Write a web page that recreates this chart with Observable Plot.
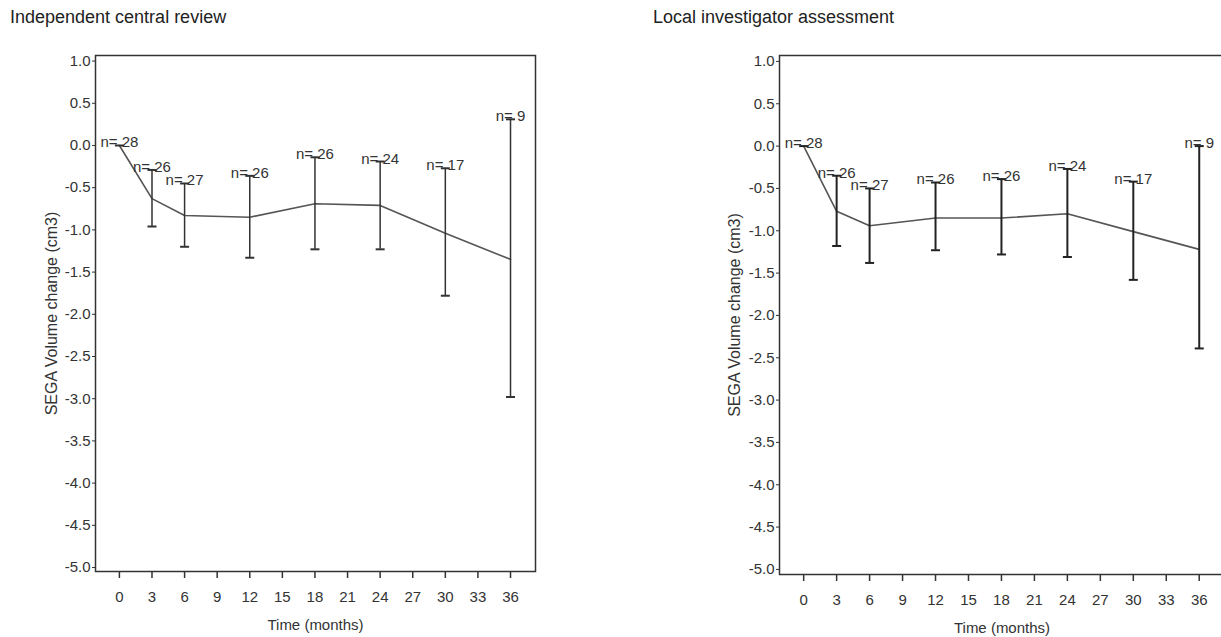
<!DOCTYPE html>
<html>
<head>
<meta charset="utf-8">
<script src="https://cdn.jsdelivr.net/npm/d3@7"></script>
<script src="https://cdn.jsdelivr.net/npm/@observablehq/plot@0.6"></script>
<style>
  html, body { margin: 0; padding: 0; background: #fff; overflow: hidden; }
  #wrap { position: relative; width: 1221px; height: 637px; overflow: hidden; font-family: 'Liberation Sans', Arial, sans-serif; }
  .title { position: absolute; top: 8px; font-size: 18px; line-height: 18px; color: #222; white-space: nowrap; }
  .panel { position: absolute; top: 30px; }
  .panel svg { max-width: none !important; display: block; }
</style>
</head>
<body>
<div id="wrap">
  <div class="title" style="left:10px">Independent central review</div>
  <div class="title" style="left:653px">Local investigator assessment</div>
  <div class="panel" id="left" style="left:0px; width:620px"></div>
  <div class="panel" id="right" style="left:640px; width:600px"></div>
</div>
<script>
// ---- data ----
const months = [0, 3, 6, 12, 18, 24, 30, 36];
const counts = [28, 26, 27, 26, 26, 24, 17, 9];

const centralMean  = [0, -0.63, -0.83, -0.85, -0.69, -0.71, -1.04, -1.35];
const centralLower = [0, -0.96, -1.20, -1.33, -1.23, -1.23, -1.78, -2.98];
const centralUpper = [0, -0.29, -0.45, -0.36, -0.14, -0.19, -0.27, 0.31];

const localMean  = [0, -0.77, -0.94, -0.85, -0.85, -0.80, -1.01, -1.22];
const localLower = [0, -1.18, -1.38, -1.23, -1.28, -1.31, -1.58, -2.39];
const localUpper = [0, -0.35, -0.50, -0.43, -0.39, -0.27, -0.42, 0.00];

const xTicks = [0, 3, 6, 9, 12, 15, 18, 21, 24, 27, 30, 33, 36];
const yTicks = [1.0, 0.5, 0.0, -0.5, -1.0, -1.5, -2.0, -2.5, -3.0, -3.5, -4.0, -4.5, -5.0];

const xLabel = "Time (months)";
const yLabel = "SEGA Volume change (cm3)";

// ---- helpers ----
const capSymbol = {
  draw(ctx, size) {
    const w = Math.sqrt(size / Math.PI);
    ctx.moveTo(-w, 0);
    ctx.lineTo(w, 0);
  }
};

function rowsOf(mean, lower, upper) {
  return months.map((t, i) => ({t, n: counts[i], mean: mean[i], lo: lower[i], hi: upper[i]}));
}

function panel({rows, width, marginLeft, marginRight, marginBottom, yDomain, barWidth, barColor, xLabelOffset, yLabelOffset}) {
  return Plot.plot({
    width,
    height: 607,
    marginTop: 25,
    marginBottom,
    marginLeft,
    marginRight,
    x: {domain: [-2.2, 38.3], axis: null},
    y: {domain: yDomain, axis: null},
    style: {fontFamily: "'Liberation Sans', Arial, sans-serif", fontSize: "15px", color: "#333", background: "transparent", overflow: "visible"},
    marks: [
      Plot.frame({stroke: "#333", strokeWidth: 1.5}),
      Plot.axisX({ticks: xTicks, tickSize: 7, tickPadding: 13, tickFormat: d => String(d), strokeWidth: 1.5,
                  label: xLabel, labelAnchor: "center", labelArrow: "none", labelOffset: xLabelOffset, fontSize: 15}),
      Plot.axisY({ticks: yTicks, tickSize: 3, tickPadding: 2, tickFormat: d => d.toFixed(1), label: null, fontSize: 15}),
      Plot.axisY({ticks: [], tickSize: 0, label: yLabel, labelAnchor: "center", labelArrow: "none", labelOffset: yLabelOffset, fontSize: 16}),
      Plot.line(rows, {x: "t", y: "mean", stroke: "#555", strokeWidth: 1.6}),
      Plot.ruleX(rows, {x: "t", y1: "lo", y2: "hi", stroke: barColor, strokeWidth: barWidth}),
      Plot.dot(rows, {x: "t", y: "hi", symbol: capSymbol, r: 4.5, fill: "none", stroke: barColor, strokeWidth: 2}),
      Plot.dot(rows.filter(d => d.lo !== d.hi), {x: "t", y: "lo", symbol: capSymbol, r: 4.5, fill: "none", stroke: barColor, strokeWidth: 2}),
      Plot.text(rows, {x: "t", y: "hi", text: d => "n= " + d.n, textAnchor: "middle", lineAnchor: "bottom", dy: 2, fill: "#333", fontSize: 15})
    ]
  });
}

document.getElementById("left").append(panel({
  rows: rowsOf(centralMean, centralLower, centralUpper),
  width: 620, marginLeft: 95, marginRight: 85, marginBottom: 66,
  yDomain: [-5.047, 1.066], barWidth: 1.5, barColor: "#333",
  xLabelOffset: 58, yLabelOffset: 50
}));

document.getElementById("right").append(panel({
  rows: rowsOf(localMean, localLower, localUpper),
  width: 600, marginLeft: 139, marginRight: 16, marginBottom: 63,
  yDomain: [-5.06, 1.07], barWidth: 2, barColor: "#222",
  xLabelOffset: 58, yLabelOffset: 51
}));
</script>
</body>
</html>
